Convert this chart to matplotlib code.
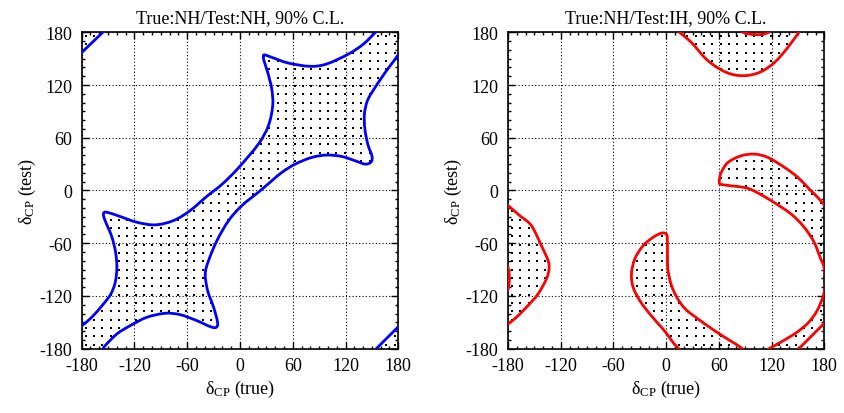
import numpy as np
import matplotlib.pyplot as plt
from matplotlib.path import Path
from matplotlib.patches import PathPatch
from matplotlib.ticker import MultipleLocator

plt.rcParams['font.family'] = ['Liberation Serif', 'DejaVu Serif']
plt.rcParams['mathtext.fontset'] = 'custom'
plt.rcParams['mathtext.rm'] = 'Liberation Serif'
plt.rcParams['mathtext.it'] = 'Liberation Serif:italic'
plt.rcParams['axes.unicode_minus'] = False

# ---- True NH / Test NH : 90% C.L. contours (delta_true, delta_test) ----
# upper-left edge of the allowed band, from the left edge to the top edge
nh_upper = [(-180, -154), (-168.6, -144.3), (-155.3, -129.1), (-147, -118),
            (-142, -105), (-140, -88), (-141.5, -70), (-146, -52), (-153.4, -34.2),
            (-155.3, -26.6), (-151.5, -24.7), (-136.3, -29.6), (-117.3, -36.1),
            (-96.5, -39.1), (-75.6, -34.2), (-56.6, -22.8), (-37.6, -6.5),
            (-20.5, 7), (-2, 25.5), (20.9, 52.8), (32.3, 73.7), (37.2, 96.5),
            (36.1, 115.4), (31.5, 134.4), (27.3, 147.7), (26.6, 153.4),
            (28.5, 154.2), (36.1, 151.5), (55, 145), (79.7, 141.3), (98.7, 144),
            (123.4, 155.3), (140.5, 166.7), (154, 180)]
# lower-right edge of the band, from the bottom edge to the right edge
nh_lower = [(-155.4, -180), (-153.4, -176.6), (-140.1, -163.3), (-124.9, -153.8),
            (-106, -144.3), (-85.1, -139.7), (-68, -141.3), (-49, -148.1),
            (-33.8, -154.9), (-27.1, -155.7), (-25.5, -150), (-30, -132.9),
            (-36.8, -113.9), (-39.5, -94.9), (-35.7, -79.7), (-26.2, -57),
            (-12.9, -34.2), (2.3, -17.1), (22.8, -0.4), (36.1, 11), (47.5, 20.5),
            (62.7, 30), (81.6, 37.6), (98.7, 40.3), (115.8, 38.7), (131, 33.8),
            (142.4, 30), (149.2, 32.6), (150, 39.5), (145.5, 52), (142, 70),
            (141.5, 87), (144.5, 101), (150, 111.6), (165.2, 134.4), (176.6, 149.6),
            (180, 155)]
nh_corner_tl = [(-180, 157), (-168, 168.5), (-156, 180)]
nh_corner_br = [(155, -180), (167, -168), (180, -155)]

# ---- True NH / Test IH : 90% C.L. contours ----
ih_u = [(15, 180), (28.5, 168.6), (47.5, 147.7), (68.4, 134.4), (87.3, 130.6),
        (106.3, 134.4), (123.4, 145.8), (138.6, 162.9), (151, 180)]
ih_cap = [(87, 180), (95, 178), (103, 177.3), (111, 178), (117, 180)]
ih_c = [(-180, -17), (-166.7, -28.5), (-153.4, -39.9), (-142, -62.7),
        (-134.4, -79.7), (-133.3, -89.2), (-136.3, -100.6), (-145.8, -117.7),
        (-159.1, -132.9), (-170.5, -144.3), (-180, -151.9)]
ih_sliver = [(-181, -84), (-179, -92), (-178.5, -100), (-179, -108), (-181, -115)]
ih_crescent = [(14.5, -180), (8.9, -174.3), (2.3, -165.2), (-5.3, -155.7),
               (-18.6, -140.5), (-30, -125.3), (-37.6, -110.1), (-39.5, -94.9),
               (-35.7, -77.8), (-26.2, -62.7), (-14.8, -53.2), (-7, -49),
               (-3, -48.3), (0, -49.5), (1.2, -53), (1.5, -72), (2, -90),
               (6, -108), (13, -123), (22, -135), (36, -146), (50, -156),
               (65, -166), (78, -174), (87, -180)]
ih_right = [(180, -16.5), (172, -7.4), (163, 1.5), (150, 14.8), (134.8, 26.2),
            (115.8, 37.6), (100.6, 41.4), (85.4, 39.5), (70.3, 31.9), (62.7, 20.5),
            (60.5, 12), (61, 7.5), (65, 6.5), (74, 5.3), (89.2, 3.4), (100, -0.5),
            (118.9, -11.2), (141.6, -26.3), (156.8, -41.5), (168.2, -58.6),
            (175.8, -77.5), (179.3, -86), (181.3, -100), (180.5, -112), (178, -122),
            (172, -136.3), (162.5, -149.6), (149.2, -161), (134, -170.5), (117, -180)]
ih_line = [(151, -180), (165.5, -165.5), (180, -151)]


def bezier(pts):
    # smooth cubic segments through the points (Catmull-Rom tangents)
    p = np.asarray(pts, float)
    ext = np.vstack([p[0], p, p[-1]])
    verts = []
    for i in range(1, len(p)):
        a, b = ext[i], ext[i + 1]
        verts += [a + (b - ext[i - 1]) / 6, b - (ext[i + 2] - a) / 6, b]
    return verts


def region_path(pieces):
    verts, codes = [], []
    for smooth, pts in pieces:
        pts = np.asarray(pts, float)
        verts.append(pts[0])
        codes.append(Path.LINETO if codes else Path.MOVETO)
        if smooth:
            v = bezier(pts)
            verts += v
            codes += [Path.CURVE4] * len(v)
        else:
            verts += list(pts[1:])
            codes += [Path.LINETO] * (len(pts) - 1)
    verts.append(verts[0])
    codes.append(Path.CLOSEPOLY)
    return Path(verts, codes)


def dotted_region(ax, pieces):
    patch = PathPatch(region_path(pieces), fc='none', ec='none')
    ax.add_patch(patch)
    g = np.arange(-175.5, 180, 9.5)
    gx, gy = np.meshgrid(g, g)
    dots, = ax.plot(gx.ravel(), gy.ravel(), 's', ms=1.8, color='k', mew=0, zorder=2)
    dots.set_clip_path(patch)


def curve(ax, pts, color):
    v = [np.asarray(pts[0], float)] + bezier(pts)
    codes = [Path.MOVETO] + [Path.CURVE4] * (len(v) - 1)
    ax.add_patch(PathPatch(Path(v, codes), fc='none', ec=color, lw=2.0,
                           capstyle='round', joinstyle='round', zorder=3))


def style(ax, title):
    ax.set_xlim(-180, 180)
    ax.set_ylim(-180, 180)
    ax.set_xticks(np.arange(-180, 181, 60))
    ax.set_yticks(np.arange(-180, 181, 60))
    ax.xaxis.set_minor_locator(MultipleLocator(10))
    ax.yaxis.set_minor_locator(MultipleLocator(10))
    ax.tick_params(which='both', direction='in', top=True, right=True, width=1)
    ax.tick_params(which='major', length=5, labelsize=13)
    ax.tick_params(which='minor', length=2.5)
    ax.tick_params(axis='x', pad=6)
    ax.tick_params(axis='y', pad=7)
    ax.grid(True, which='major', color='k', linestyle=(0, (1, 2)), lw=0.8)
    ax.set_axisbelow(True)
    for s in ax.spines.values():
        s.set_linewidth(1.2)
    ax.set_title(title, fontsize=13, pad=7)
    ax.set_xlabel(r'$\mathrm{\delta_{CP}}$ (true)', fontsize=13, labelpad=3)
    ax.set_ylabel(r'$\mathrm{\delta_{CP}}$ (test)', fontsize=13, labelpad=1)


fig = plt.figure(figsize=(8.44, 4.14), dpi=100)
ax1 = fig.add_axes([0.0968, 0.1553, 0.3751, 0.7643])
ax2 = fig.add_axes([0.6019, 0.1553, 0.3748, 0.7643])

# left panel
dotted_region(ax1, [(True, nh_upper), (False, [(180, 180)]),
                    (True, nh_lower[::-1]), (False, [(-180, -180)])])
dotted_region(ax1, [(True, nh_corner_tl), (False, [(-180, 180)])])
dotted_region(ax1, [(True, nh_corner_br), (False, [(180, -180)])])
for c in (nh_upper, nh_lower, nh_corner_tl, nh_corner_br):
    curve(ax1, c, 'blue')
style(ax1, 'True:NH/Test:NH, 90% C.L.')

# right panel
dotted_region(ax2, [(True, ih_u), (True, ih_cap[::-1])])
dotted_region(ax2, [(True, ih_c), (True, ih_sliver[::-1])])
dotted_region(ax2, [(True, ih_crescent)])
dotted_region(ax2, [(True, ih_right), (True, ih_line),
                    (False, [(190, -151), (190, -16.5)])])
for c in (ih_u, ih_cap, ih_c, ih_sliver, ih_crescent, ih_right, ih_line):
    curve(ax2, c, 'red')
style(ax2, 'True:NH/Test:IH, 90% C.L.')

fig.savefig('out.png', dpi=100)
